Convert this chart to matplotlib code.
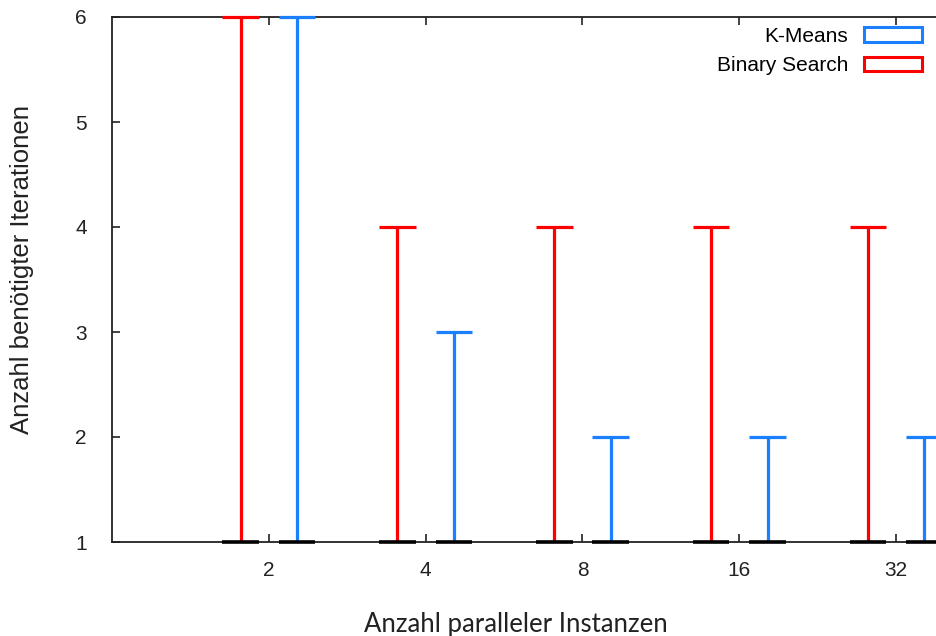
import matplotlib
matplotlib.use("Agg")
import matplotlib.pyplot as plt
from matplotlib.patches import Patch
import numpy as np

plt.rcParams['font.family'] = ['Liberation Sans', 'DejaVu Sans']

# Parallel instance counts and iteration counts per method
instances = ["2", "4", "8", "16", "32"]
binary_search = [6, 4, 4, 4, 4]
kmeans = [6, 3, 2, 2, 2]
base_value = 1

red = "#ff0000"
blue = "#1a80ff"
ink = "#222222"

fig = plt.figure(figsize=(9.37, 6.36), dpi=100)
W, H = 937, 636
left, right, top, bottom = 112, 1053, 17, 542
ax = fig.add_axes([left / W, 1 - bottom / H, (right - left) / W, (bottom - top) / H])

x = np.arange(1, len(instances) + 1)
off = 0.18
cap = 0.117
lw = 2.3

for xs, vals, col in [(x - off, binary_search, red), (x + off, kmeans, blue)]:
    ax.vlines(xs, base_value, vals, color=col, lw=lw, clip_on=False, zorder=3)
    ax.hlines(vals, xs - cap, xs + cap, color=col, lw=lw, clip_on=False, zorder=3)
    ax.hlines([base_value] * len(xs), xs - cap, xs + cap, color="black", lw=2.6,
              clip_on=False, zorder=4)

ax.set_xlim(0, 6)
ax.set_ylim(1, 6)
ax.set_xticks(x)
ax.set_xticklabels(instances)
ax.set_yticks([1, 2, 3, 4, 5, 6])

for s in ax.spines.values():
    s.set_linewidth(1.3)
    s.set_color(ink)

ax.tick_params(axis="x", direction="in", length=6, width=1.2, pad=14,
               top=True, labelsize=15, colors=ink)
ax.tick_params(axis="y", direction="in", length=6, width=1.2, pad=18,
               labelsize=15, colors=ink)

fig.text(516 / W, 1 - 632 / H, "Anzahl paralleler Instanzen", ha="center", va="baseline",
         fontsize=18.5, color=ink, family=["Lato", "DejaVu Sans"])
fig.text(29 / W, 1 - 270 / H, "Anzahl benötigter Iterationen", ha="center", va="baseline",
         rotation=90, rotation_mode="anchor", fontsize=18.5, color=ink)

handles = [Patch(facecolor="white", edgecolor=blue, lw=2.2, label="K-Means"),
           Patch(facecolor="white", edgecolor=red, lw=2.2, label="Binary Search")]
fig.legend(handles=handles, loc="upper right", bbox_to_anchor=(922 / W, 1 - 27 / H),
           frameon=False, markerfirst=False, handlelength=2.8, handleheight=0.7,
           labelspacing=0.5, handletextpad=0.75, fontsize=15, borderaxespad=0,
           borderpad=0)

fig.savefig("out.png", dpi=100)
